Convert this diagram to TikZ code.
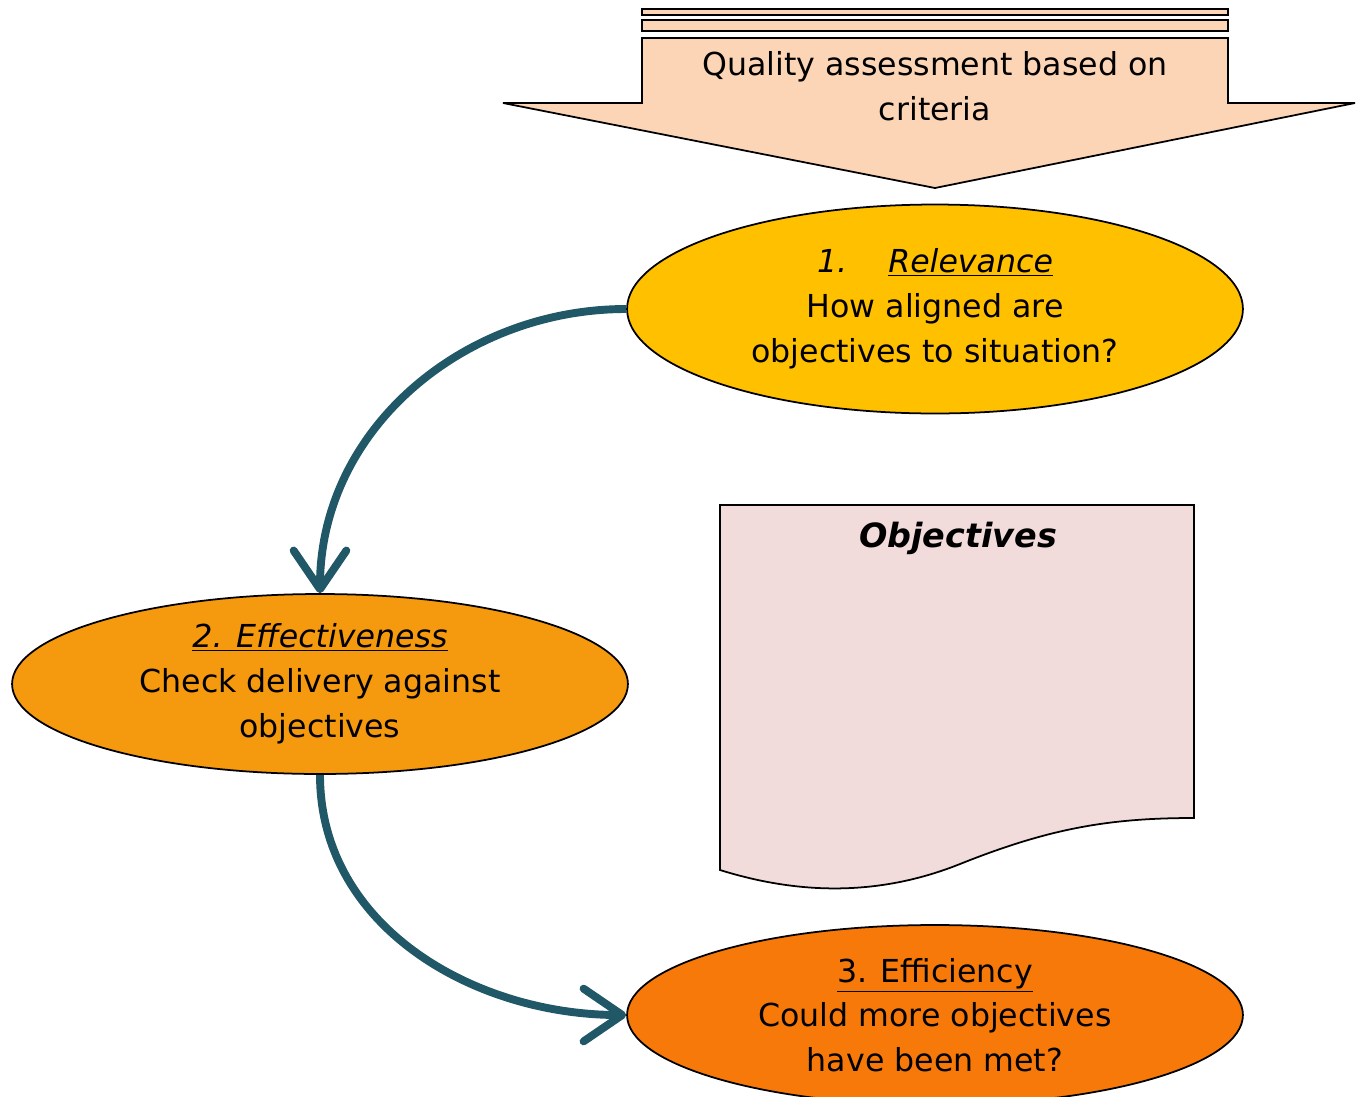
\documentclass[tikz,border=0pt]{standalone}
\usepackage{fontspec}
\setmainfont{DejaVu Sans}
\usepackage{tikz}
\usetikzlibrary{shapes.geometric, arrows.meta, positioning}
\definecolor{peach}{HTML}{FBD5B5}
\definecolor{gold}{HTML}{FFC000}
\definecolor{amber}{HTML}{F5990E}
\definecolor{tangerine}{HTML}{F7790A}
\definecolor{blush}{HTML}{F2DCDB}
\definecolor{petrol}{HTML}{215868}
\tikzstyle{criterion} = [ellipse, draw=black, line width=1pt, minimum width=12.32cm, minimum height=3.6cm, inner sep=0pt, text centered, align=center, font=\fontsize{18}{25.5}\selectfont]
\tikzstyle{label} = [align=center, font=\fontsize{18}{25.5}\selectfont]
\tikzstyle{outline} = [draw=black, line width=1pt]
\tikzstyle{arrow} = [line width=4.5pt, draw=petrol, -{Straight Barb[length=22pt, width=30pt, round]}]

\begin{document}
\begin{tikzpicture}[x=0.02cm, y=-0.02cm]
	\useasboundingbox (0,0) rectangle (1356,1096);
	\filldraw [outline, fill=peach] (642,9) rectangle (1228,15);
	\filldraw [outline, fill=peach] (642,20) rectangle (1228,31);
	\filldraw [outline, fill=peach] (642,38) -- (1228,38) -- (1228,103) -- (1355,103) -- (935,188) -- (503,103) -- (642,103) -- cycle;
	\node (quality) [label] at (935,86) {Quality assessment based on\\criteria};
	
	\node (relevance) [criterion, fill=gold, minimum height=4.18cm] at (935,309) {\textit{1.\hspace{1.3em}\underline{Relevance}}\\How aligned are\\objectives to situation?};
	\node (effectiveness) [criterion, fill=amber] at (320,684) {\textit{\underline{2. Effectiveness}}\\Check delivery against\\objectives};
	\node (efficiency) [criterion, fill=tangerine] at (935,1015) {\underline{3. Efficiency}\\Could more objectives\\have been met?};
	
	\filldraw [outline, fill=blush] (720,505) -- (1194,505) -- (1194,818) .. controls (1110,818) and (1050,828) .. (960,864) .. controls (880,896) and (800,895) .. (720,870) -- cycle;
	\node (objectives) [label, font=\fontsize{19}{25.5}\selectfont] at (958,538) {\textbf{\textit{Objectives}}};
	
	\draw [arrow] (relevance.west) to[out=180, in=90] (effectiveness.north);
	\draw [arrow] (effectiveness.south) to[out=-90, in=180] (efficiency.west);
\end{tikzpicture}
\end{document}
